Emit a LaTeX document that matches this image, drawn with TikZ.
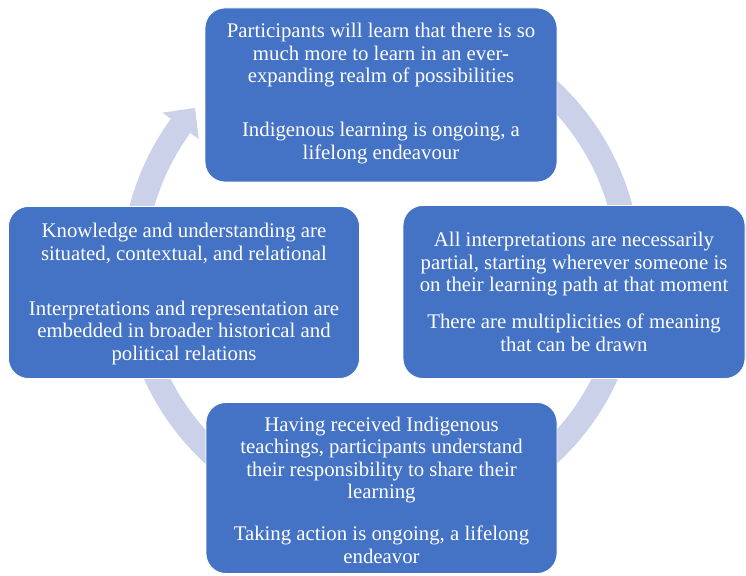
\documentclass[tikz,border=0pt]{standalone}
\usepackage{fontspec}
\setmainfont{Liberation Serif}
\definecolor{boxblue}{HTML}{4472C4}
\definecolor{ringc}{HTML}{CBD1E8}
\begin{document}
\begin{tikzpicture}[x=1pt,y=1pt,
  boxstyle/.style={fill=boxblue, draw=white, line width=0.8pt, rounded corners=20pt, inner sep=0pt},
  txt/.style={text=white, align=center, font=\fontsize{20.8}{22.5}\selectfont, inner sep=0pt},
  ringband/.style={draw=ringc, line width=24pt}]
\useasboundingbox (0,0) rectangle (746,575);
\coordinate (c) at (381,303);
% circular arrow ring
\draw[ringband] ([shift={(125:248)}]c) arc[start angle=125, end angle=-216.4, radius=248];
\fill[ringc, shift={(c)}] (143.9:225.5) -- (143.9:270.5) -- (138.6:248) -- cycle;
% boxes
\node[boxstyle, minimum width=352pt, minimum height=174pt] (top) at (381,480) {};
\node[boxstyle, minimum width=351pt, minimum height=172pt] (left) at (184,282.5) {};
\node[boxstyle, minimum width=342pt, minimum height=173pt] (right) at (574,283) {};
\node[boxstyle, minimum width=351pt, minimum height=171pt] (bottom) at (381.5,87) {};
% texts
\node[txt] (ttop) at ([yshift=1.5pt]top.center) {Participants will learn that there is so\\
much more to learn in an ever-\\
expanding realm of possibilities\\[31.5pt]
Indigenous learning is ongoing, a\\
lifelong endeavour};
\node[txt] (tleft) at ([yshift=-1.5pt]left.center) {Knowledge and understanding are\\
situated, contextual, and relational\\[32.5pt]
Interpretations and representation are\\
embedded in broader historical and\\
political relations};
\node[txt] (tright) at ([yshift=0pt]right.center) {All interpretations are necessarily\\
partial, starting wherever someone is\\
on their learning path at that moment\\[14.5pt]
There are multiplicities of meaning\\
that can be drawn};
\node[txt] (tbottom) at ([yshift=-2pt]bottom.center) {Having received Indigenous\\
teachings, participants understand\\
their responsibility to share their\\
learning\\[19.5pt]
Taking action is ongoing, a lifelong\\
endeavor};
\end{tikzpicture}
\end{document}
